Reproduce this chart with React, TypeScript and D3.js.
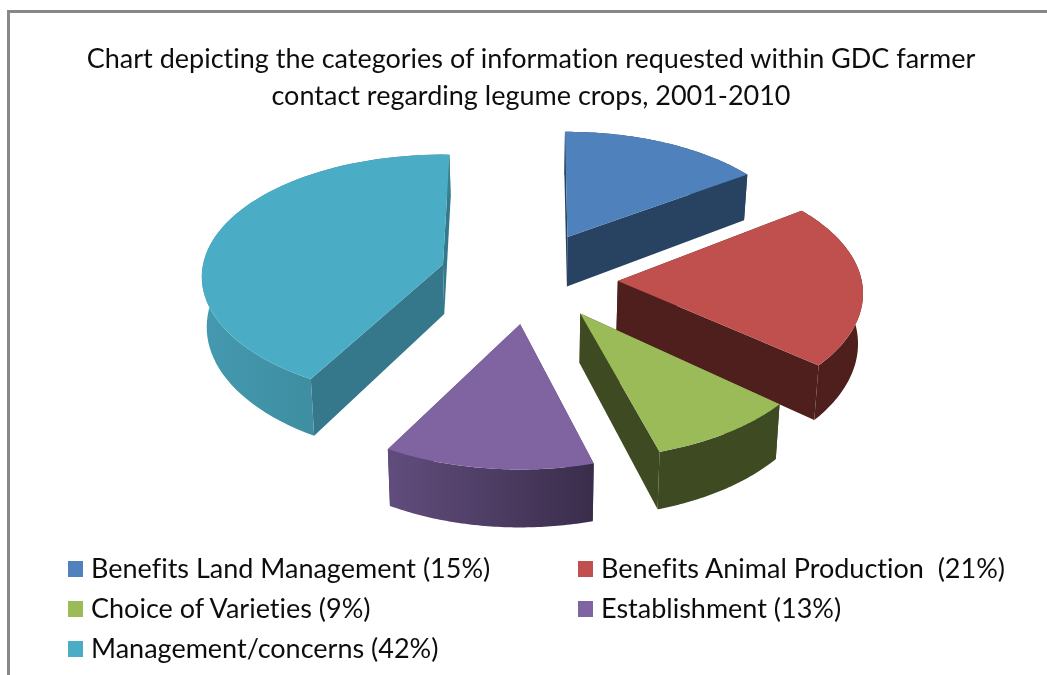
import React from "react";
import * as d3 from "d3";

const W = 1047;
const H = 675;

const titleLines = [
  "Chart depicting the categories of information requested  within GDC farmer",
  "contact regarding legume crops, 2001-2010",
];
const categories = [
  "Benefits Land Management (15%)",
  "Benefits Animal Production  (21%)",
  "Choice of Varieties (9%)",
  "Establishment (13%)",
  "Management/concerns (42%)",
];
const shares = [15, 21, 9, 13, 42];
const topColors = ["#4F81BD", "#C0504D", "#9BBB59", "#8064A2", "#4BACC6"];
const wallColors = ["#284361", "#4E1F1D", "#3E4A22", "#4A3A5E", "#35788B"];
const outerFrom = ["#284361", "#4E1F1D", "#3E4A22", "#614D7D", "#4499B0"];
const outerTo = ["#284361", "#4E1F1D", "#3E4A22", "#3A2D4B", "#38808F"];

// small corrections for the way the original 3D renderer distorts each slice
const startTrim = [-0.7, -1, 1.8, 2.8, 1.4];
const endTrim = [1.9, 0, 1.5, -0.2, 1.7];
const explodeTurn = [0, 4.5, -1, 0, 0];
const explodeBy = [0.37, 0.37, 0.355, 0.37, 0.375];
const rxBy = [235, 244, 240, 241, 240];
const ryBy = [120.5, 124, 124, 124, 121];
const perspBy = [0.146, 0.1, 0.146, 0.146, 0.1];

// projection of the tilted disk
const cx = 529;
const cy = 276;
const rx = 240;
const ry = 124;
const persp = 0.146;
const depth = 49.5;
const shrink = 0.985;

const rad = Math.PI / 180;
const scaleAt = (v: number, k = persp) => 1 / (1 - k * v);
const proj = (u: number, v: number): [number, number] => [rx * u * scaleAt(v), ry * v * scaleAt(v)];

const pieGen = d3.pie<number>().sort(null).value((d) => d);
const line = d3.line();

type P = [number, number];

function sliceGeometry(start0: number, end0: number, i: number) {
  const mid = (start0 + end0) / 2 + explodeTurn[i] * rad;
  const start = start0 + startTrim[i] * rad;
  const end = end0 + endTrim[i] * rad;
  const e = explodeBy[i];
  const [ax, ay] = proj(e * Math.sin(mid), -e * Math.cos(mid));
  const apex: P = [cx + ax, cy + ay];
  const rimV: number[] = [];
  const n = 64;
  const rim: P[] = d3.range(n + 1).map((k) => {
    const a = start + ((end - start) * k) / n;
    const u = Math.sin(a);
    const v = -Math.cos(a);
    rimV.push(v);
    const s = scaleAt(v, perspBy[i]);
    return [apex[0] + rxBy[i] * u * s, apex[1] + ryBy[i] * v * s] as P;
  });
  const drop = (p: P, v: number): P => [cx + (p[0] - cx) * shrink, p[1] + depth * scaleAt(v)];
  const apexLow = drop(apex, 0);
  const rimLow = rim.map((p, k) => drop(p, rimV[k]));
  return { apex, apexLow, rim, rimLow };
}

const legendCols = [68, 578];
const legendRows = [569, 609, 649];

export default function App() {
  const arcs = pieGen(shares);
  const slices = arcs.map((a, i) => sliceGeometry(a.startAngle, a.endAngle, i));
  const textStyle = { fontVariantLigatures: "none" } as React.CSSProperties;
  return (
    <svg
      width={W}
      height={H}
      viewBox={`0 0 ${W} ${H}`}
      style={{ position: "absolute", left: 0, top: 0, background: "#fff" }}
    >
      <defs>
        {slices.map((s, i) => {
          const xs = s.rim.map((p) => p[0]);
          return (
            <linearGradient
              key={i}
              id={`outer${i}`}
              gradientUnits="userSpaceOnUse"
              x1={d3.min(xs)}
              x2={d3.max(xs)}
              y1={0}
              y2={0}
            >
              <stop offset="0" stopColor={outerFrom[i]} />
              <stop offset="1" stopColor={outerTo[i]} />
            </linearGradient>
          );
        })}
        <filter id="soft" x="-2%" y="-20%" width="104%" height="140%">
          <feGaussianBlur stdDeviation="0.45" />
        </filter>
      </defs>
      <path d="M8.5 675 V11.5 H1047" fill="none" stroke="#888" strokeWidth={3} />
      <g filter="url(#soft)">
        {titleLines.map((t, i) => (
          <text
            key={i}
            x={531}
            y={68 + i * 37}
            textAnchor="middle"
            fontFamily="Lato"
            fontSize={27}
            fill="#111"
            style={textStyle}
          >
            {t}
          </text>
        ))}
      </g>
      {slices.map((s, i) => (
        <g key={i}>
          <path d={line([s.apex, s.rim[0], s.rimLow[0], s.apexLow])! + "Z"} fill={wallColors[i]} />
          <path
            d={line([s.apex, s.rim[s.rim.length - 1], s.rimLow[s.rim.length - 1], s.apexLow])! + "Z"}
            fill={wallColors[i]}
          />
          <path
            d={line([...s.rim, ...s.rimLow.slice().reverse()])! + "Z"}
            fill={`url(#outer${i})`}
          />
          <path d={line([s.apex, ...s.rim])! + "Z"} fill={topColors[i]} />
        </g>
      ))}
      {categories.map((c, i) => {
        const x = legendCols[i % 2];
        const y = legendRows[Math.floor(i / 2)];
        return (
          <g key={c}>
            <rect x={x} y={y - 8} width={15} height={16} fill={topColors[i]} />
            <text
              x={x + 23}
              y={y + 9}
              fontFamily="Lato"
              fontSize={27}
              fill="#111"
              xmlSpace="preserve"
              style={textStyle}
              filter="url(#soft)"
            >
              {c}
            </text>
          </g>
        );
      })}
    </svg>
  );
}
